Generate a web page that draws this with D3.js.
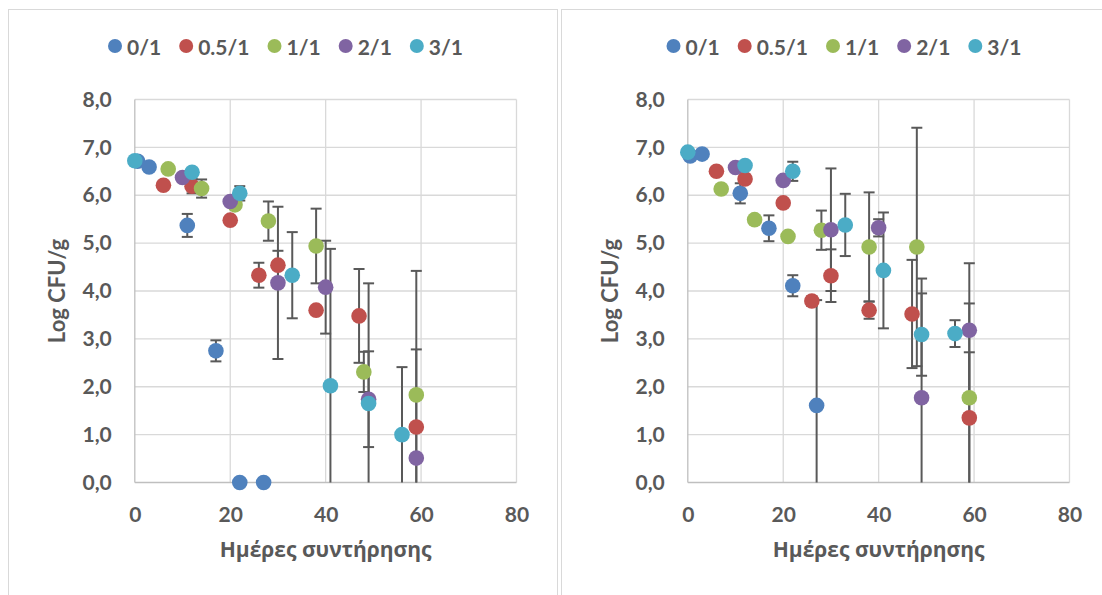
<!DOCTYPE html>
<html>
<head>
<meta charset="utf-8">
<script src="https://cdn.jsdelivr.net/npm/d3@7"></script>
<style>
  html, body { margin: 0; padding: 0; background: #fff; }
  svg { display: block; }
  text { font-family: Lato, "Open Sans", sans-serif; font-weight: 700; fill: #595959; }
  .greek { font-family: "Open Sans", "Noto Sans", sans-serif; }
</style>
</head>
<body>
<svg id="chart" width="1102" height="595"></svg>
<script>
// Series names and colours (mixing ratios)
const seriesNames = ["0/1", "0.5/1", "1/1", "2/1", "3/1"];
const seriesColors = ["#4F81BD", "#C0504D", "#9BBB59", "#8064A2", "#4BACC6"];

// Axis ticks
const xTicks = [0, 20, 40, 60, 80];
const yTicks = [0, 1, 2, 3, 4, 5, 6, 7, 8];

// Left panel: [day, log CFU/g, error]
const left01  = [[0.6, 6.71, 0], [3, 6.59, 0], [11, 5.37, 0.24], [17, 2.75, 0.22], [22, 0, 0], [27, 0, 0]];
const left051 = [[6, 6.21, 0], [12, 6.19, 0.15], [20, 5.48, 0], [26, 4.33, 0.26], [30, 4.54, 0.30], [38, 3.60, 0.06], [47, 3.48, 0.98], [59, 1.16, 1.62]];
const left11  = [[7, 6.55, 0], [14, 6.14, 0.19], [21, 5.80, 0.08], [28, 5.46, 0.41], [38, 4.94, 0.78], [48, 2.31, 0.42], [59, 1.83, 2.59]];
const left21  = [[10, 6.37, 0], [20, 5.87, 0], [30, 4.17, 1.59], [40, 4.08, 0.97], [49, 1.74, 1.0], [59, 0.51, 0]];
const left31  = [[0, 6.72, 0], [12, 6.48, 0], [22, 6.04, 0.15], [33, 4.33, 0.9], [41, 2.02, 2.86], [49, 1.65, 2.51], [56, 1.0, 1.41]];

// Right panel: [day, log CFU/g, error]
const right01  = [[0.5, 6.82, 0], [3, 6.86, 0], [11, 6.04, 0.21], [17, 5.31, 0.27], [22, 4.11, 0.22], [27, 1.61, 2.2]];
const right051 = [[6, 6.50, 0], [12, 6.34, 0], [20, 5.84, 0], [26, 3.79, 0.1], [30, 4.32, 0.55], [38, 3.60, 0.18], [47, 3.52, 1.13], [59, 1.35, 1.37]];
const right11  = [[7, 6.13, 0], [14, 5.49, 0], [21, 5.14, 0], [28, 5.27, 0.41], [38, 4.92, 1.14], [48, 4.92, 2.49], [59, 1.77, 1.97]];
const right21  = [[10, 6.58, 0], [20, 6.31, 0], [30, 5.28, 1.28], [40, 5.32, 0.18], [49, 1.77, 2.49], [59, 3.18, 1.4]];
const right31  = [[0, 6.90, 0], [12, 6.62, 0], [22, 6.50, 0.2], [33, 5.38, 0.65], [41, 4.43, 1.21], [49, 3.09, 0.86], [56, 3.11, 0.28]];

const xTitle = "Ημέρες συντήρησης";
const yTitle = "Log CFU/g";

const svg = d3.select("#chart");
svg.append("rect").attr("width", 1102).attr("height", 595).attr("fill", "#fff");

function drawPanel(ox, frameW, groups) {
  const g = svg.append("g");
  // chart frame
  g.append("rect")
    .attr("x", ox + 0.5).attr("y", 9.5)
    .attr("width", frameW).attr("height", 620)
    .attr("fill", "none").attr("stroke", "#d9d9d9").attr("stroke-width", 1);

  const plotL = ox + 126.8, plotR = plotL + 381.7, plotT = 99.5, plotB = 482.5;
  const x = d3.scaleLinear().domain([0, 80]).range([plotL, plotR]);
  const y = d3.scaleLinear().domain([0, 8]).range([plotB, plotT]);

  // gridlines
  g.append("g").selectAll("line").data(yTicks.filter(v => v > 0)).join("line")
    .attr("x1", plotL).attr("x2", plotR)
    .attr("y1", d => y(d)).attr("y2", d => y(d))
    .attr("stroke", "#d9d9d9").attr("stroke-width", 1.3);
  g.append("g").selectAll("line").data(xTicks.filter(v => v > 0)).join("line")
    .attr("x1", d => x(d)).attr("x2", d => x(d))
    .attr("y1", plotT).attr("y2", plotB)
    .attr("stroke", "#d9d9d9").attr("stroke-width", 1.3);
  // axis lines
  g.append("line").attr("x1", plotL).attr("x2", plotR).attr("y1", plotB).attr("y2", plotB)
    .attr("stroke", "#bfbfbf").attr("stroke-width", 1.3);
  g.append("line").attr("x1", plotL).attr("x2", plotL).attr("y1", plotT).attr("y2", plotB)
    .attr("stroke", "#bfbfbf").attr("stroke-width", 1.3);

  // tick labels
  const yAxis = g.append("g").attr("transform", `translate(${plotL},0)`)
    .call(d3.axisLeft(y).tickValues(yTicks).tickSize(0).tickPadding(23)
      .tickFormat(v => v.toFixed(1).replace(".", ",")));
  const xAxis = g.append("g").attr("transform", `translate(0,${plotB})`)
    .call(d3.axisBottom(x).tickValues(xTicks).tickSize(0).tickPadding(25).tickFormat(d3.format("d")));
  [yAxis, xAxis].forEach(a => {
    a.select(".domain").remove();
    a.selectAll("text").attr("font-size", 21).attr("fill", "#595959")
      .style("font-family", "Lato, 'Open Sans', sans-serif").style("font-weight", 700);
  });

  // axis titles
  g.append("text").attr("class", "greek")
    .attr("x", (plotL + plotR) / 2).attr("y", 551)
    .attr("text-anchor", "middle").attr("dominant-baseline", "middle")
    .attr("font-size", 21).text(xTitle);
  g.append("text")
    .attr("transform", `translate(${ox + 51},${(plotT + plotB) / 2}) rotate(-90)`)
    .attr("text-anchor", "middle").attr("dominant-baseline", "middle")
    .attr("font-size", 22).text(yTitle);

  // error bars (clipped to the axis range, no cap at a clipped end)
  const eb = g.append("g").attr("stroke", "#595959").attr("stroke-width", 2).attr("fill", "none");
  groups.forEach(data => {
    data.filter(d => d[2] > 0).forEach(d => {
      const hi = d[1] + d[2], lo = d[1] - d[2];
      const yh = y(Math.min(hi, 8)), yl = y(Math.max(lo, 0));
      const cx = x(d[0]);
      eb.append("line").attr("x1", cx).attr("x2", cx).attr("y1", yh).attr("y2", yl);
      if (hi <= 8) eb.append("line").attr("x1", cx - 5.5).attr("x2", cx + 5.5).attr("y1", yh).attr("y2", yh);
      if (lo >= 0) eb.append("line").attr("x1", cx - 5.5).attr("x2", cx + 5.5).attr("y1", yl).attr("y2", yl);
    });
  });

  // markers
  groups.forEach((data, i) => {
    g.append("g").selectAll("circle").data(data).join("circle")
      .attr("cx", d => x(d[0])).attr("cy", d => y(d[1])).attr("r", 7.8)
      .attr("fill", seriesColors[i]);
  });

  // legend, centred in the frame
  const leg = g.append("g");
  let cursor = 0;
  seriesNames.forEach((name, i) => {
    const item = leg.append("g").attr("transform", `translate(${cursor},0)`);
    item.append("circle").attr("cx", 7).attr("cy", 0).attr("r", 7).attr("fill", seriesColors[i]);
    const t = item.append("text").attr("x", 19).attr("y", 0)
      .attr("dominant-baseline", "central").attr("font-size", 21).text(name);
    cursor += 19 + t.node().getComputedTextLength() + 18;
  });
  const legW = cursor - 18;
  leg.attr("transform", `translate(${ox + frameW / 2 - legW / 2 + 3},46)`);
}

drawPanel(8, 549, [left01, left051, left11, left21, left31]);
drawPanel(561, 560, [right01, right051, right11, right21, right31]);
</script>
</body>
</html>
